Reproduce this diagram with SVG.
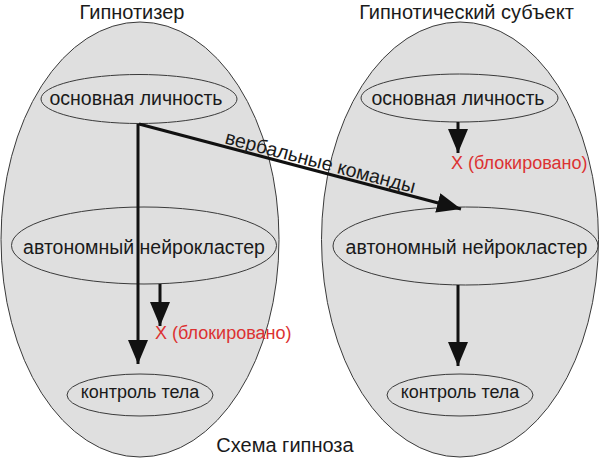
<svg xmlns="http://www.w3.org/2000/svg" width="600" height="458" viewBox="0 0 600 458">
<defs>
<style>
.big{fill:#dfdfdf;stroke:#3a3a3a;stroke-width:1}
.node{fill:#dfdfdf;stroke:#3a3a3a;stroke-width:1}
.t{font-family:"Liberation Sans",Arial,sans-serif;fill:#1a1a1a;text-anchor:middle}
.title{font-size:20px}
.lbl{font-size:19.5px}
.small{font-size:18px}
.red{font-family:"Liberation Sans",Arial,sans-serif;font-size:18px;fill:#dc3232}
.arr{stroke:#111;stroke-width:3;fill:none;marker-end:url(#ah)}
</style>
<marker id="ah" markerUnits="userSpaceOnUse" markerWidth="24" markerHeight="20" refX="24" refY="10" orient="auto">
<path d="M0,0 L24,10 L0,20 z" fill="#111"/>
</marker>
</defs>
<rect width="600" height="458" fill="#ffffff"/>

<g id="hypnotizer">
<ellipse class="big" cx="140" cy="239.5" rx="139" ry="217.5"/>
<text class="t title" x="132" y="18.5">Гипнотизер</text>
</g>
<g id="subject">
<ellipse class="big" cx="460" cy="239.5" rx="138.5" ry="217.5"/>
<text class="t title" x="466.5" y="18.5">Гипнотический субъект</text>
</g>

<g id="h-core">
<ellipse class="node" cx="139" cy="99" rx="98" ry="24.5"/>
<text class="t lbl" x="136" y="105">основная личность</text>
</g>
<g id="h-auto">
<ellipse class="node" cx="144" cy="245.5" rx="132.5" ry="38.5"/>
<text class="t lbl" x="144" y="254">автономный нейрокластер</text>
</g>
<g id="h-body">
<ellipse class="node" cx="140" cy="395" rx="73" ry="21"/>
<text class="t small" x="140" y="398">контроль тела</text>
</g>

<g id="s-core">
<ellipse class="node" cx="459.5" cy="98" rx="98.5" ry="24"/>
<text class="t lbl" x="458" y="105">основная личность</text>
</g>
<g id="s-auto">
<ellipse class="node" cx="465.5" cy="246" rx="132.5" ry="39"/>
<text class="t lbl" x="466.5" y="254">автономный нейрокластер</text>
</g>
<g id="s-body">
<ellipse class="node" cx="460" cy="395" rx="73" ry="21"/>
<text class="t small" x="460" y="398">контроль тела</text>
</g>

<g id="connectors">
<line class="arr" x1="138" y1="124" x2="138" y2="364"/>
<line class="arr" x1="160" y1="284" x2="160" y2="326"/>
<line class="arr" x1="139" y1="124" x2="461" y2="209"/>
<line class="arr" x1="458" y1="122" x2="458" y2="153"/>
<line class="arr" x1="458" y1="285" x2="458" y2="366"/>
<text class="t lbl" x="224" y="143.3" style="text-anchor:start" transform="rotate(14.8 224 143.3)">вербальные команды</text>
</g>

<g id="blocked-labels">
<text class="red" x="155" y="339">X (блокировано)</text>
<text class="red" x="451" y="169">X (блокировано)</text>
</g>

<text class="t title" x="285" y="452">Схема гипноза</text>
</svg>
